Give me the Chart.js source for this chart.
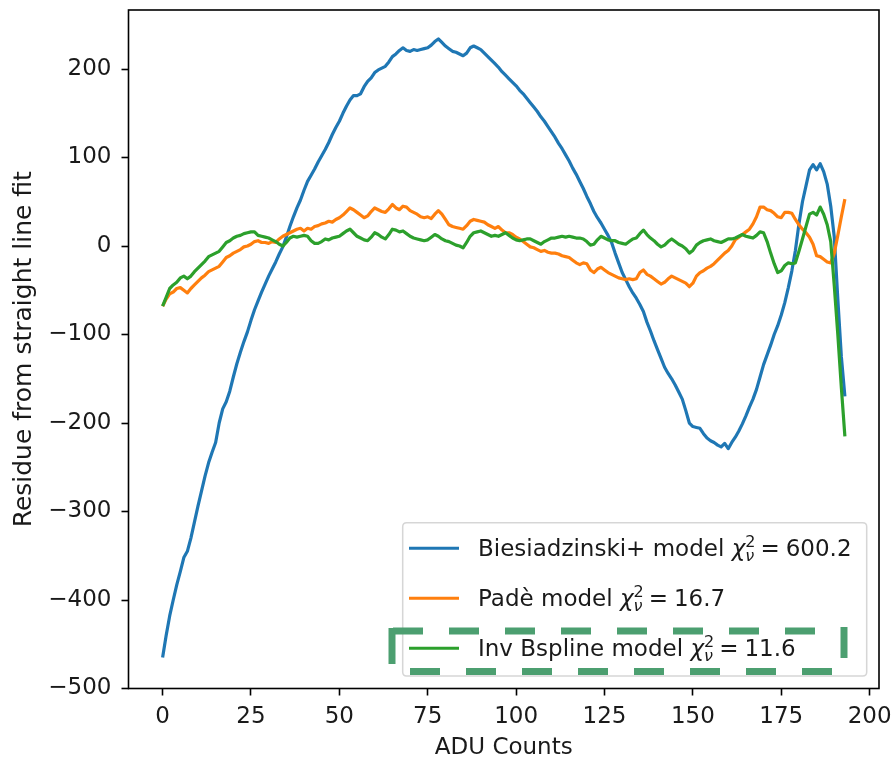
<!DOCTYPE html>
<html>
<head>
<meta charset="utf-8">
<script src="https://cdn.jsdelivr.net/npm/chart.js@4.4.1/dist/chart.umd.min.js"></script>
<style>
  html, body { margin: 0; padding: 0; background: #fff; }
  #c { display: block; }
</style>
</head>
<body>
<canvas id="c" width="895" height="759"></canvas>
<script>
// ---------------- data ----------------
const biesiadzinski = [
 -465,-440,-418,-400,-383,-368,-352,-345,-330,-312,
 -294,-277,-260,-245,-233,-222,-200,-184,-176,-164,
 -148,-133,-120,-108,-97,-84,-72,-62,-52,-43,
 -34,-26,-18,-9,-1,10,22,33,43,52,
 63,73,80,87,95,102,109,117,126,134,
 141,150,158,165,170,170,172,180,186,190,
 196,199,201,203,208,214,217,221,224,221,
 220,222,221,222,223,224,227,231,234,230,
 226,223,220,219,217,215,218,224,226,224,
 222,218,214,210,206,202,197,193,189,185,
 181,176,172,167,162,157,152,146,141,135,
 129,123,116,110,103,96,88,81,73,65,
 56,48,39,32,26,19,12,4,-8,-19,
 -30,-38,-46,-53,-59,-66,-74,-86,-96,-107,
 -117,-127,-137,-144,-150,-157,-165,-173,-186,-200,
 -204,-205,-206,-212,-217,-220,-222,-225,-227,-223,
 -229,-222,-216,-209,-201,-192,-182,-173,-162,-148,
 -134,-123,-112,-100,-90,-78,-64,-47,-28,-5,
 25,50,68,86,92,86,93,84,70,45,
 10,-60,-125,-170
];
const pade = [
 -68,-60,-54,-52,-48,-47,-50,-53,-48,-44,
 -40,-36,-33,-29,-27,-25,-23,-18,-13,-11,
 -8,-6,-4,-1,0,2,5,6,4,4,
 3,5,4,8,11,13,15,17,19,20,
 17,20,19,22,23,25,26,28,27,30,
 32,35,39,43,41,38,35,32,34,39,
 43,41,39,38,42,47,43,41,45,44,
 40,38,36,33,32,33,31,36,40,36,
 30,24,22,21,20,19,23,28,30,29,
 28,27,24,22,20,22,18,15,15,13,
 10,8,5,2,-1,-2,-4,-6,-5,-7,
 -8,-8,-9,-11,-12,-13,-16,-19,-21,-19,
 -20,-27,-30,-26,-24,-27,-30,-32,-34,-36,
 -37,-38,-37,-38,-37,-30,-27,-32,-34,-37,
 -40,-43,-41,-37,-34,-36,-38,-40,-42,-46,
 -42,-34,-30,-28,-25,-23,-20,-16,-12,-8,
 -5,0,7,10,13,16,19,25,33,44,
 44,41,40,37,33,32,38,38,37,30,
 24,19,15,10,2,-11,-12,-15,-18,-19,
 -8,12,33,53
];
const invBspline = [
 -68,-58,-48,-44,-41,-36,-34,-37,-34,-29,
 -25,-21,-17,-12,-10,-8,-6,-1,4,6,
 9,11,12,14,15,16,16,12,11,10,
 9,7,5,2,0,4,9,11,10,11,
 12,11,6,3,3,5,8,7,9,10,
 11,14,17,19,15,11,9,7,6,10,
 15,13,10,8,13,19,18,16,17,14,
 11,9,8,7,6,7,10,13,11,8,
 6,5,3,1,0,-2,4,11,15,16,
 17,15,13,11,12,11,13,15,12,9,
 7,6,7,8,8,6,4,2,5,7,
 9,9,10,11,10,11,10,9,9,8,
 5,1,2,7,11,9,7,6,6,4,
 3,2,5,8,9,14,18,13,9,6,
 2,-1,1,5,8,5,2,0,-3,-8,
 -5,1,4,6,7,8,6,5,4,6,
 8,8,9,11,13,11,10,9,12,16,
 15,5,-8,-20,-30,-28,-22,-19,-20,-19,
 -6,8,22,36,38,35,44,36,24,5,
 -45,-100,-160,-215
];
const aduCounts = biesiadzinski.map((_, i) => i);   // 0 .. 193
const xTickValues = [0, 25, 50, 75, 100, 125, 150, 175, 200];
const xTickLabels = ['0', '25', '50', '75', '100', '125', '150', '175', '200'];
const yTickValues = [-500, -400, -300, -200, -100, 0, 100, 200];
const yTickLabels = ['\u2212500', '\u2212400', '\u2212300', '\u2212200', '\u2212100', '0', '100', '200'];
const legendNames = ['Biesiadzinski+ model', 'Pad\u00e8 model', 'Inv Bspline model'];
const chiValues = ['600.2', '16.7', '11.6'];
const seriesColors = ['#1f77b4', '#ff7f0e', '#2ca02c'];

// ---------------- helpers ----------------
const FONT = '"DejaVu Sans", "Liberation Sans", sans-serif';
const pts = (ys) => ys.map((y, i) => ({ x: aduCounts[i], y }));

const framePlugin = {
  id: 'frame',
  afterDatasetsDraw(chart) {
    const { ctx, chartArea: a } = chart;
    ctx.save();
    ctx.strokeStyle = '#000';
    ctx.lineWidth = 1.6;
    ctx.strokeRect(a.left, a.top, a.right - a.left, a.bottom - a.top);
    ctx.restore();
  }
};

const legendPlugin = {
  id: 'mplLegend',
  afterDraw(chart) {
    const { ctx, chartArea: a } = chart;
    const w = 464, h = 153.3;
    const bx = a.right - 12.3 - w, by = a.bottom - 12.5 - h;
    ctx.save();
    const r = 4;
    ctx.beginPath();
    ctx.moveTo(bx + r, by);
    ctx.lineTo(bx + w - r, by);
    ctx.quadraticCurveTo(bx + w, by, bx + w, by + r);
    ctx.lineTo(bx + w, by + h - r);
    ctx.quadraticCurveTo(bx + w, by + h, bx + w - r, by + h);
    ctx.lineTo(bx + r, by + h);
    ctx.quadraticCurveTo(bx, by + h, bx, by + h - r);
    ctx.lineTo(bx, by + r);
    ctx.quadraticCurveTo(bx, by, bx + r, by);
    ctx.closePath();
    ctx.fillStyle = 'rgba(255,255,255,0.8)';
    ctx.fill();
    ctx.strokeStyle = 'rgba(204,204,204,0.8)';
    ctx.lineWidth = 1.5;
    ctx.stroke();

    for (let i = 0; i < legendNames.length; i++) {
      const rowY = by + 25.5 + 50 * i;
      ctx.strokeStyle = seriesColors[i];
      ctx.lineWidth = 3;
      ctx.beginPath();
      ctx.moveTo(bx + 6.3, rowY);
      ctx.lineTo(bx + 56.3, rowY);
      ctx.stroke();

      const base = rowY + 8;
      let x = bx + 75.3;
      ctx.fillStyle = '#1a1a1a';
      ctx.textBaseline = 'alphabetic';
      ctx.textAlign = 'left';
      ctx.font = '23px ' + FONT;
      const t1 = legendNames[i] + ' ';
      ctx.fillText(t1, x, base);
      x += ctx.measureText(t1).width;
      ctx.font = 'italic 23px ' + FONT;
      ctx.fillText('\u03c7', x, base);
      x += ctx.measureText('\u03c7').width;
      ctx.font = '16px ' + FONT;
      ctx.fillText('2', x, base - 9);
      const wSup = ctx.measureText('2').width;
      ctx.font = 'italic 16px ' + FONT;
      ctx.fillText('\u03bd', x, base + 4.5);
      const wSub = ctx.measureText('\u03bd').width;
      x += Math.max(wSup, wSub) + 5;
      ctx.font = '23px ' + FONT;
      ctx.fillText('=', x, base);
      x += ctx.measureText('=').width + 6;
      ctx.fillText(chiValues[i], x, base);
    }

    // highlight annotation (green dashed frame around third entry)
    const L = bx - 10.7, R = bx + 441.3, T = by + 108.3, B = by + 148.8;
    ctx.strokeStyle = '#4c9f70';
    ctx.lineWidth = 7;
    ctx.lineCap = 'butt';
    ctx.setLineDash([]);
    ctx.beginPath(); ctx.moveTo(L, T - 3); ctx.lineTo(L, T + 33); ctx.stroke();
    ctx.beginPath(); ctx.moveTo(R, T - 4); ctx.lineTo(R, T + 27); ctx.stroke();
    ctx.setLineDash([30, 26]);
    ctx.beginPath(); ctx.moveTo(L + 1, T); ctx.lineTo(R - 3, T); ctx.stroke();
    ctx.beginPath(); ctx.moveTo(L + 18, B); ctx.lineTo(R - 11, B); ctx.stroke();
    ctx.restore();
  }
};

const mk = (label, data, color, order) => ({
  label, data: pts(data), borderColor: color, backgroundColor: color,
  borderWidth: 3.2, pointRadius: 0, pointHoverRadius: 0, tension: 0,
  fill: false, order, borderJoinStyle: 'round', borderCapStyle: 'butt'
});

new Chart(document.getElementById('c'), {
  type: 'line',
  data: {
    datasets: [
      mk(legendNames[0], biesiadzinski, seriesColors[0], 2),
      mk(legendNames[1], pade, seriesColors[1], 1),
      mk(legendNames[2], invBspline, seriesColors[2], 0)
    ]
  },
  options: {
    responsive: false,
    animation: false,
    layout: { padding: { left: 0, right: 16, top: 10, bottom: 0 } },
    plugins: { legend: { display: false }, tooltip: { enabled: false } },
    scales: {
      x: {
        type: 'linear',
        min: -9.65, max: 202.65,
        afterBuildTicks: (s) => { s.ticks = xTickValues.map(v => ({ value: v })); },
        afterFit: (s) => { s.height = 70.5; s.paddingLeft = 0; s.paddingRight = 0; },
        ticks: {
          callback: (v) => xTickLabels[xTickValues.indexOf(v)] ?? '',
          font: { family: FONT, size: 23 }, color: '#1a1a1a', padding: 8,
          maxRotation: 0, autoSkip: false
        },
        grid: { display: true, drawOnChartArea: false, drawTicks: true, tickLength: 7, tickWidth: 1.6, tickColor: '#000' },
        border: { display: false },
        title: { display: true, text: 'ADU Counts', font: { family: FONT, size: 23, lineHeight: 1 }, color: '#1a1a1a', padding: { top: 0, bottom: -1 } }
      },
      y: {
        type: 'linear',
        min: -500, max: 266.7,
        afterBuildTicks: (s) => { s.ticks = yTickValues.map(v => ({ value: v })); },
        afterFit: (s) => { s.width = 128.5; s.paddingTop = 0; s.paddingBottom = 0; },
        ticks: {
          callback: (v) => yTickLabels[yTickValues.indexOf(v)] ?? '',
          font: { family: FONT, size: 23 }, color: '#1a1a1a', padding: 10, autoSkip: false
        },
        grid: { display: true, drawOnChartArea: false, drawTicks: true, tickLength: 7, tickWidth: 1.6, tickColor: '#000' },
        border: { display: false },
        title: { display: true, text: 'Residue from straight line fit', font: { family: FONT, size: 25, lineHeight: 1 }, color: '#1a1a1a', padding: { top: 12, bottom: 0 } }
      }
    }
  },
  plugins: [framePlugin, legendPlugin]
});
</script>
</body>
</html>
